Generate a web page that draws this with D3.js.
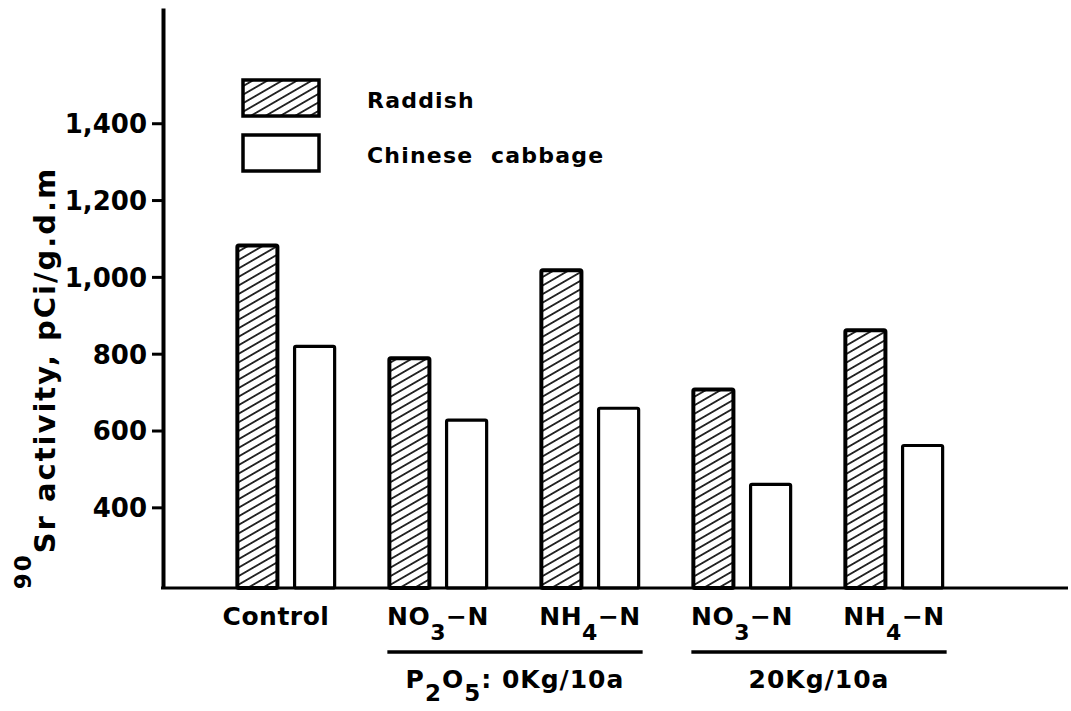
<!DOCTYPE html>
<html><head><meta charset="utf-8">
<script src="https://cdn.jsdelivr.net/npm/d3@7"></script>
<style>
body{margin:0;background:#fff}
svg{display:block}
text{font-family:"DejaVu Sans",sans-serif;font-weight:bold;fill:#000}
</style>
</head><body><svg id="c" width="1071" height="711"></svg>
<script>
// ---- data ----
const categories = ["Control", "NO3-N 0kg", "NH4-N 0kg", "NO3-N 20kg", "NH4-N 20kg"];
const series = ["Raddish", "Chinese cabbage"];
const raddish = [1082, 788, 1017, 707, 861];
const cabbage = [819, 627, 658, 460, 561];
const yTicks = [400, 600, 800, 1000, 1200, 1400];
const categoryLabels = [
  [{t: "Control"}],
  [{t: "NO"}, {t: "3", sub: true}, {t: "\u2212N"}],
  [{t: "NH"}, {t: "4", sub: true}, {t: "\u2212N"}],
  [{t: "NO"}, {t: "3", sub: true}, {t: "\u2212N"}],
  [{t: "NH"}, {t: "4", sub: true}, {t: "\u2212N"}]
];
const groupLabels = [
  [{t: "P"}, {t: "2", sub: true}, {t: "O"}, {t: "5", sub: true}, {t: ": 0Kg/10a"}],
  [{t: "20Kg/10a"}]
];
const groupMembers = [["NO3-N 0kg", "NH4-N 0kg"], ["NO3-N 20kg", "NH4-N 20kg"]];
const yBase = 190;   // value at the x-axis line
const yTop = 1700;   // value at top of the y-axis line

// ---- chart ----
const svg = d3.select("#c");
const axisX = 163, baseY = 588, topY = 8, rightX = 1068;

const y = d3.scaleLinear().domain([yBase, yTop]).range([baseY, topY]);
const x0 = d3.scaleBand().domain(categories).range([210, 970]).paddingInner(0.36).paddingOuter(0.18);
const x1 = d3.scaleBand().domain(series).range([0, x0.bandwidth()]).paddingInner(0.3);

const defs = svg.append("defs");
const pat = defs.append("pattern").attr("id", "hatch").attr("patternUnits", "userSpaceOnUse")
  .attr("width", 20).attr("height", 7.4).attr("patternTransform", "rotate(-30)");
pat.append("rect").attr("width", 20).attr("height", 7.4).attr("fill", "#fff");
pat.append("line").attr("x1", 0).attr("x2", 20).attr("y1", 3.7).attr("y2", 3.7)
  .attr("stroke", "#000").attr("stroke-width", 1.6);

const fills = {"Raddish": "url(#hatch)", "Chinese cabbage": "#fff"};
const strokes = {"Raddish": 4, "Chinese cabbage": 3.2};

const data = categories.map((c, i) => ({cat: c, vals: [{s: "Raddish", v: raddish[i]}, {s: "Chinese cabbage", v: cabbage[i]}]}));

const g = svg.append("g").selectAll("g").data(data).join("g")
  .attr("transform", d => `translate(${x0(d.cat)},0)`);
g.selectAll("rect").data(d => d.vals).join("rect")
  .attr("x", d => x1(d.s))
  .attr("width", x1.bandwidth())
  .attr("y", d => y(d.v))
  .attr("height", d => y(yBase) - y(d.v))
  .attr("rx", 1.5)
  .attr("fill", d => fills[d.s])
  .attr("stroke", "#000")
  .attr("stroke-width", d => strokes[d.s]);

// y axis
const ya = svg.append("g").attr("transform", `translate(${axisX},0)`)
  .call(d3.axisLeft(y).tickValues(yTicks).tickSize(11).tickSizeOuter(0).tickPadding(5).tickFormat(d3.format(",")));
ya.select(".domain").attr("stroke", "#000").attr("stroke-width", 4);
ya.selectAll(".tick line").attr("stroke", "#000").attr("stroke-width", 3);
ya.selectAll(".tick text").style("font-size", "26px").style("font-family", '"DejaVu Sans",sans-serif')
  .style("font-weight", "bold").attr("dy", "0.36em");

// x axis line
svg.append("line").attr("x1", axisX - 2).attr("x2", rightX).attr("y1", y(yBase)).attr("y2", y(yBase))
  .attr("stroke", "#000").attr("stroke-width", 3);

function richText(sel, parts, subSize, subDy, overlap) {
  let shifted = false;
  parts.forEach(p => {
    const ts = sel.append("tspan").text(p.t);
    if (p.sub) {
      ts.attr("dy", subDy).style("font-size", subSize + "px");
      shifted = true;
    } else if (shifted) {
      ts.attr("dy", -subDy).attr("dx", overlap);
      shifted = false;
    }
  });
}

// category labels
categories.forEach((c, i) => {
  const t = svg.append("text").attr("x", x0(c) + x0.bandwidth() / 2 - (i === 0 ? 10 : 0)).attr("y", 625)
    .attr("text-anchor", "middle").style("font-size", "25px").style("letter-spacing", "0.5px");
  richText(t, categoryLabels[i], 22, 15, 0);
});

// group underlines and labels
groupMembers.forEach((m, i) => {
  const xa = x0(m[0]) - 2, xb = x0(m[1]) + x0.bandwidth() + 4;
  svg.append("line").attr("x1", xa).attr("x2", xb).attr("y1", 652).attr("y2", 652)
    .attr("stroke", "#000").attr("stroke-width", 3.5);
  const t = svg.append("text").attr("x", (xa + xb) / 2).attr("y", 688)
    .attr("text-anchor", "middle").style("font-size", "25px").style("letter-spacing", "1px");
  richText(t, groupLabels[i], 23, 13, 0);
});

// y label
const yl = svg.append("text").attr("transform", "translate(55,378) rotate(-90)")
  .attr("text-anchor", "middle").style("font-size", "29px").style("letter-spacing", "2px");
yl.append("tspan").text("90").style("font-size", "23px").attr("dy", -24);
yl.append("tspan").text("Sr activity, pCi/g.d.m").attr("dy", 24);

// legend
const leg = svg.append("g");
const legY = [80, 135];
series.forEach((s, i) => {
  leg.append("rect").attr("x", 243).attr("y", legY[i]).attr("width", 76).attr("height", 36)
    .attr("fill", fills[s]).attr("stroke", "#000").attr("stroke-width", 3.5);
  leg.append("text").attr("x", 367).attr("y", legY[i] + 28).style("font-size", "22px")
    .style("letter-spacing", "1.2px").attr("xml:space", "preserve")
    .text(i === 1 ? "Chinese  cabbage" : s);
});
</script>
</body></html>
